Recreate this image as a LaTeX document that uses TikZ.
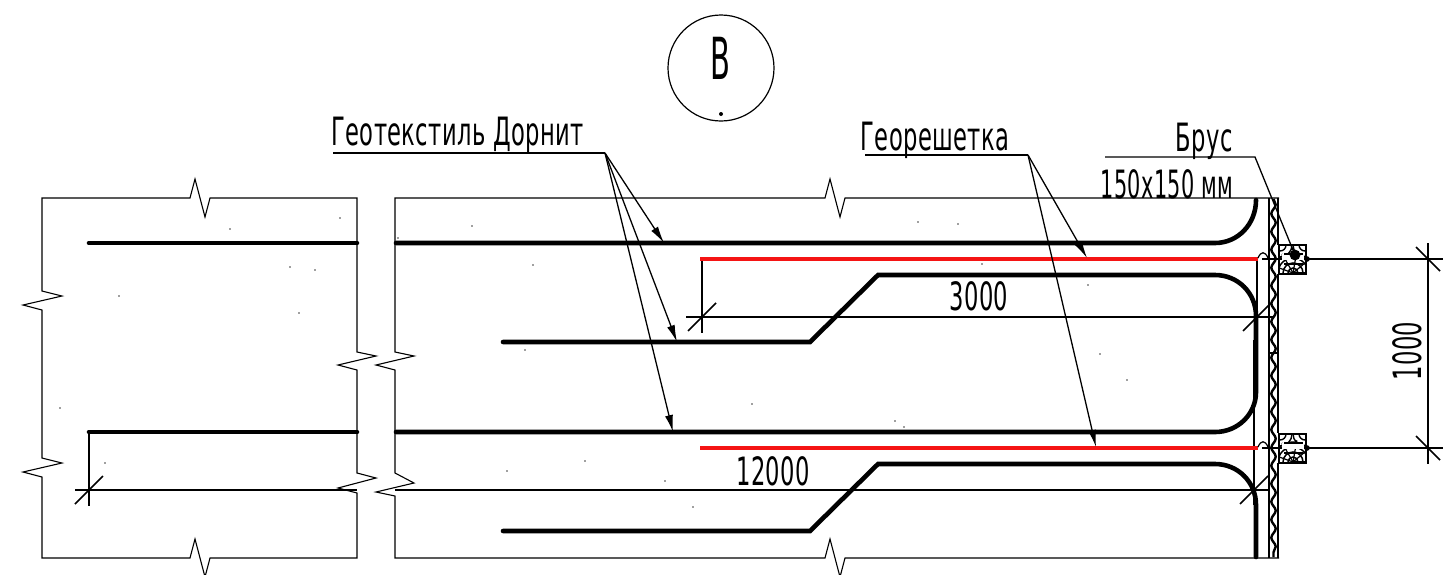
\documentclass[tikz,border=0pt]{standalone}
\usepackage{graphicx}
\usepackage{fontspec}
\setmainfont[FakeStretch=0.58,LetterSpace=1]{DejaVu Sans}
\newfontfamily\markfont[FakeStretch=0.5]{DejaVu Sans}
\usetikzlibrary{arrows.meta,decorations.pathmorphing}
\definecolor{redline}{RGB}{245,20,20}
\tikzset{
  px/.style={x=0.5pt,y=-0.5pt},
  frameline/.style={draw=black,line width=0.55pt,line join=miter},
  thick line/.style={draw=black,line width=2.3pt,line cap=round},
  redband/.style={draw=redline,line width=2.4pt},
  dimline/.style={draw=black,line width=0.6pt},
  tickmark/.style={draw=black,line width=0.85pt},
  leader/.style={draw=black,line width=0.65pt},
  arrowleader/.style={leader,-{Latex[length=8.5pt,width=4pt]}},
  lab/.style={inner sep=0pt,font=\fontsize{19.5}{20}\selectfont,anchor=center},
}
\newcommand{\tickAt}[2]{\draw[tickmark] (#1-14,#2+14) -- (#1+14,#2-14);}
\newcommand{\tickBack}[2]{\draw[tickmark] (#1-12,#2-12) -- (#1+12,#2+12);}
\begin{document}
\begin{tikzpicture}[px]
\useasboundingbox (0,0) rectangle (1450,574);
\fill[white] (0,0) rectangle (1450,574);
% marker
\node[draw=black,line width=0.6pt,circle,minimum size=53pt,inner sep=0pt] (mark) at (721,68) {};
\node[inner sep=0pt,font=\markfont\fontsize{29}{29}\selectfont] (markB) at (720,58) {В};
\fill (721,114) circle (1pt);
% left fragment outline
\draw[frameline] (190,198) -- (42,198) -- (42,291) -- (62,296) -- (23,305) -- (42,310) -- (42,458) -- (62,463) -- (23,472) -- (42,477) -- (42,558) -- (190,558) -- (195,539) -- (205,577) -- (210,558) -- (357,558)
  -- (357,493) -- (338,488) -- (376,478) -- (357,473) -- (357,370) -- (338,365) -- (376,356) -- (357,352) -- (357,198) -- (210,198) -- (205,217) -- (195,179) -- cycle;
% right fragment outline
\draw[frameline] (1279,198) -- (845,198) -- (840,217) -- (830,179) -- (825,198) -- (395,198) -- (395,352) -- (414,356) -- (376,365) -- (395,370) -- (395,473) -- (414,483) -- (376,492) -- (395,496) -- (395,558) -- (825,558) -- (830,539) -- (840,577) -- (845,558) -- (1279,558);
% specks
\foreach \p in {(230,229),(340,218),(398,238),(472,226),(290,267),(315,270),(119,296),(299,313),(533,265),(525,350),(60,408),(105,463),(918,222),(958,224),(982,264),(1088,285),(1100,354),(1127,380),(752,404),(895,421),(904,427),(507,471),(585,461),(665,481),(693,507)}
  \fill[black!75] \p circle (0.45pt);
% dimension lines
\coordinate (d12a) at (75,490); \coordinate (d12b) at (357,490);
\coordinate (d12c) at (395,490); \coordinate (d12d) at (1268,490);
\draw[dimline] (d12a) -- (d12b);
\draw[dimline] (d12c) -- (d12d);
\draw[dimline] (89,432) -- (89,506);
\draw[dimline] (1254,340) -- (1254,505);
\tickAt{89}{490}
\tickAt{1254}{490}
\coordinate (d3a) at (686,317); \coordinate (d3b) at (1273,317);
\draw[dimline] (d3a) -- (d3b);
\draw[dimline] (702,259) -- (702,333);
\draw[dimline] (1257,259) -- (1257,333);
\tickAt{702}{317}
\tickAt{1257}{317}
\coordinate (d1a) at (1262,259); \coordinate (d1b) at (1443,259);
\coordinate (d1c) at (1262,448); \coordinate (d1d) at (1443,448);
\draw[dimline] (d1a) -- (d1b);
\draw[dimline] (d1c) -- (d1d);
\draw[dimline] (1428,243) -- (1428,464);
\tickBack{1428}{259}
\tickBack{1428}{448}
% geotextile
\draw[thick line] (89,243) -- (357,243);
\draw[thick line] (396,243) -- (1215,243) .. controls (1238,243) and (1256,224) .. (1256,200);
\draw[thick line] (503,342) -- (810,342) -- (878,275) -- (1215,275) .. controls (1238,275) and (1256,293) .. (1256,316) -- (1256,392) .. controls (1256,414) and (1238,432) .. (1215,432) -- (396,432);
\draw[thick line] (357,432) -- (89,432);
\draw[thick line] (503,531) -- (810,531) -- (878,464) -- (1215,464) .. controls (1238,464) and (1256,482) .. (1256,505) -- (1256,557);
% geogrid
\draw[redband] (700,259) -- (1258,259);
\draw[redband] (700,448) -- (1258,448);
\draw[line width=0.6pt] (1258,258) .. controls (1261,251) and (1265,251) .. (1268,258) -- (1272,259);
\draw[line width=0.6pt] (1258,447) .. controls (1261,440) and (1265,440) .. (1268,447) -- (1272,448);
% plank
\draw[line width=1.4pt] (1269,198) -- (1269,558);
\draw[line width=1.4pt] (1278,198) -- (1278,245);
\draw[line width=1.4pt] (1278,274) -- (1278,433);
\draw[line width=1.4pt] (1278,463) -- (1278,558);
\draw[line width=1pt] (1268,353) -- (1279,353);
\draw[line width=1.2pt,decorate,decoration={snake,amplitude=1.1pt,segment length=9pt}] (1273.5,199) -- (1273.5,557);
% beams
\foreach \yy in {245,434} {
  \begin{scope}
    \clip (1279,\yy) rectangle (1306,\yy+29);
    \foreach \r in {5,10,15,20} \draw[line width=0.75pt] (1293,\yy+28) circle[radius=\r];
    \foreach \a in {20,60,100,140,180} \draw[line width=0.6pt] (1293,\yy+28) -- ++(\a:-22);
    \foreach \r in {6,12} {
      \draw[line width=0.7pt] (1280,\yy) circle[radius=\r];
      \draw[line width=0.7pt] (1305,\yy) circle[radius=\r];
    }
    \fill[white] (1282,\yy+9) rectangle (1304,\yy+15);
    \draw[line width=0.9pt] (1284,\yy+9) -- (1303,\yy+9);
    \draw[line width=0.9pt] (1284,\yy+19) -- (1303,\yy+19);
  \end{scope}
  \draw[line width=1.3pt] (1279,\yy) rectangle (1306,\yy+29);
}
\fill (1295,255) circle (2.7pt);
\fill (1307,259) circle (1.4pt);
\fill (1307,448) circle (1.4pt);
% labels and leaders
\node[lab] (geotex) at (457.5,135) {Геотекстиль Дорнит};
\node[lab] (geogrid) at (935,140) {Георешетка};
\node[lab] (brus) at (1204,141) {Брус};
\node[lab] (size) at (1167,184) {\scalebox{0.92}[1]{150х150 мм}};
\node[lab] (d3000) at (979,296) {3000};
\node[lab] (d12000) at (773,471) {12000};
\node[lab,rotate=90] (d1000) at (1407,351) {1000};
\coordinate (ugt0) at (333,153); \coordinate (ugt) at (605,153);
\coordinate (ugg0) at (865,155); \coordinate (ugg) at (1028,155);
\coordinate (ubr0) at (1105,157); \coordinate (ubr) at (1255,157);
\coordinate (t1) at (664,243); \coordinate (t2) at (677,342); \coordinate (t3) at (673,432);
\coordinate (g1) at (1087,258); \coordinate (g2) at (1096,447);
\coordinate (bdot) at (1295,255);
\draw[leader] (ugt0) -- (ugt);
\draw[leader] (ugg0) -- (ugg);
\draw[leader] (ubr0) -- (ubr) -- (bdot);
\draw[arrowleader] (ugt) -- (t1);
\draw[arrowleader] (ugt) -- (t2);
\draw[arrowleader] (ugt) -- (t3);
\draw[arrowleader] (ugg) -- (g1);
\draw[arrowleader] (ugg) -- (g2);
\end{tikzpicture}
\end{document}
